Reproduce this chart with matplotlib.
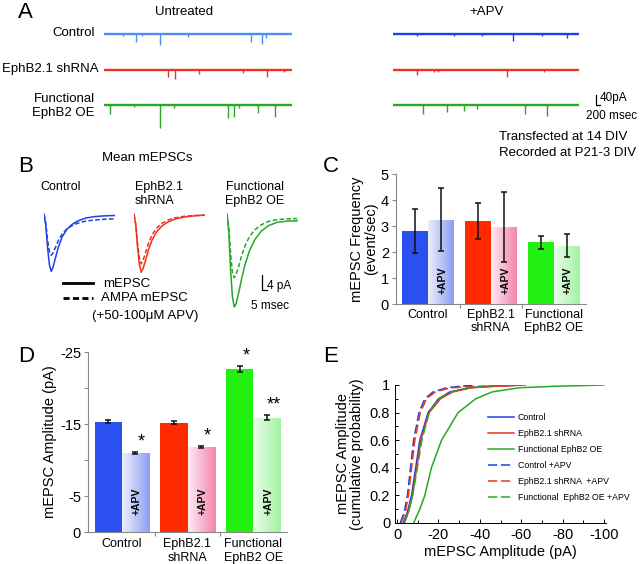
import numpy as np
import matplotlib
matplotlib.use("Agg")
import matplotlib.pyplot as plt
from matplotlib.colors import LinearSegmentedColormap

plt.rcParams['font.family'] = ['Liberation Sans', 'DejaVu Sans']
plt.rcParams['axes.unicode_minus'] = False

W, H = 640, 564

# ---------------- data ----------------
# panel A: spontaneous events (sweep fraction, amplitude in pA)
ctl_untr_t = [0.10, 0.17, 0.20, 0.30, 0.445, 0.78, 0.84, 0.86]
ctl_untr_a = [10, 40, 8, 55, 15, 40, 50, 20]
shr_untr_t = [0.34, 0.38, 0.505, 0.74, 0.865, 0.96]
shr_untr_a = [35, 45, 20, 15, 35, 10]
oe_untr_t = [0.03, 0.16, 0.30, 0.37, 0.66, 0.69, 0.72, 0.82, 0.91]
oe_untr_a = [45, 12, 115, 15, 65, 60, 15, 40, 60]
ctl_apv_t = [0.13, 0.33, 0.48, 0.645, 0.80, 0.935]
ctl_apv_a = [8, 10, 8, 35, 10, 20]
shr_apv_t = [0.13, 0.22, 0.24, 0.615, 0.81]
shr_apv_a = [25, 12, 12, 35, 10]
oe_apv_t = [0.16, 0.29, 0.38, 0.45, 0.71, 0.83]
oe_apv_a = [45, 35, 30, 20, 45, 55]

# panel B: mean mEPSC waveforms (ms, pA)
wave_t = [0, 2, 4, 6, 8, 10, 13, 16, 20, 25, 31, 38, 46, 56, 67, 78]
ctl_solid = [0, -3, -9, -13.5, -15.3, -14.2, -11.5, -8.8, -6.2, -4.2, -2.8, -1.8, -1.1, -0.7, -0.5, -0.4]
ctl_dash = [0, -2.5, -7, -10, -11.0, -10.4, -8.8, -7.0, -5.4, -4.1, -3.1, -2.4, -1.9, -1.6, -1.4, -1.3]
shr_solid = [0, -3, -9, -13.5, -15.5, -14.6, -12.2, -9.6, -7.0, -4.8, -3.2, -2.1, -1.3, -0.8, -0.5, -0.3]
shr_dash = [0, -2.7, -8, -11.8, -13.3, -12.4, -10.2, -7.9, -5.6, -3.8, -2.5, -1.6, -1.0, -0.6, -0.4, -0.3]
oe_solid = [0, -5, -15, -22, -24.8, -24.0, -21.0, -17.5, -13.5, -9.8, -6.8, -4.6, -3.1, -2.2, -1.9, -1.8]
oe_dash = [0, -3.5, -10.5, -15.5, -17.0, -16.2, -14.0, -11.3, -8.5, -6.0, -4.2, -2.9, -2.0, -1.5, -1.3, -1.2]

# panel C: frequency
groups = ['Control', 'EphB2.1\nshRNA', 'Functional\nEphB2 OE']
freq_untr = [2.8, 3.2, 2.37]
freq_untr_err = [0.85, 0.7, 0.26]
freq_apv = [3.25, 2.97, 2.25]
freq_apv_err = [1.2, 1.35, 0.45]

# panel D: amplitude (pA, sign flipped on axis)
amp_untr = [15.3, 15.2, 22.6]
amp_untr_err = [0.2, 0.2, 0.4]
amp_apv = [11.0, 11.8, 15.9]
amp_apv_err = [0.15, 0.15, 0.3]
amp_stars_untr = ['', '', '*']
amp_stars_apv = ['*', '*', '**']

# panel E: cumulative distributions (pA, probability)
cdf_ctl_x = [-3, -5, -7, -9, -11, -15, -20, -25.5, -35, -45, -60]
cdf_ctl_y = [0, 0.08, 0.2, 0.4, 0.6, 0.8, 0.9, 0.95, 0.98, 0.99, 1.0]
cdf_shr_x = [-3.5, -5.5, -7.5, -9.5, -11.5, -15.5, -21, -27, -36, -47, -62]
cdf_shr_y = [0, 0.08, 0.2, 0.4, 0.6, 0.8, 0.9, 0.95, 0.98, 0.99, 1.0]
cdf_oe_x = [-8, -11, -13.4, -16.6, -21.5, -29.5, -38, -46, -59, -75, -100]
cdf_oe_y = [0, 0.1, 0.2, 0.4, 0.6, 0.8, 0.9, 0.95, 0.98, 0.99, 1.0]
cdf_ctl_apv_x = [-1.5, -3.5, -5, -6.5, -8, -10.6, -13.4, -17.4, -24, -30, -37]
cdf_ctl_apv_y = [0, 0.08, 0.2, 0.4, 0.6, 0.8, 0.9, 0.95, 0.98, 0.99, 1.0]
cdf_shr_apv_x = [-2, -4, -5.5, -7, -8.6, -11.2, -14.2, -18.5, -26, -38, -60]
cdf_shr_apv_y = [0, 0.08, 0.2, 0.4, 0.6, 0.8, 0.9, 0.95, 0.98, 0.99, 1.0]
cdf_oe_apv_x = [-3.5, -5.5, -7.5, -9.8, -12, -15.5, -20, -26, -35, -42, -50]
cdf_oe_apv_y = [0, 0.08, 0.2, 0.4, 0.6, 0.8, 0.9, 0.95, 0.98, 0.99, 1.0]

# colours
blue_l, blue_d = '#4d8ef0', '#1f3fe8'
red = '#ee3322'
green = '#27a827'
bar_solid = ['#2b50f0', '#ff2a00', '#22f010']
bar_grad = [('#eceefc', '#8e9ff0'), ('#fdecf3', '#f384ae'), ('#ebfdeb', '#a2f3a2')]

fig = plt.figure(figsize=(W / 100, H / 100), dpi=100)


def px_axes(x0, y0, x1, y1):
    return fig.add_axes([x0 / W, 1 - y1 / H, (x1 - x0) / W, (y1 - y0) / H])


# overlay in pixel coordinates for labels
ov = px_axes(0, 0, W, H)
ov.set_xlim(0, W)
ov.set_ylim(H, 0)
ov.axis('off')

# ---------------- A ----------------
rows = [(ctl_untr_t, ctl_untr_a, ctl_apv_t, ctl_apv_a, blue_l, blue_d, 34),
        (shr_untr_t, shr_untr_a, shr_apv_t, shr_apv_a, red, red, 70),
        (oe_untr_t, oe_untr_a, oe_apv_t, oe_apv_a, green, green, 105)]
for tu, au, ta, aa, cu, ca, yb in rows:
    for (x0, x1), tt, aa_, c in [((104, 292), tu, au, cu), ((393, 579), ta, aa, ca)]:
        ax = px_axes(x0, yb - 4, x1, yb + 26)
        ax.set_xlim(0, 1)
        ax.set_ylim(-130, 20)
        ax.axis('off')
        ax.plot([0, 1], [0, 0], color=c, lw=1.7)
        ax.vlines(tt, 0, [-a for a in aa_], color=c, lw=1.0)

ov.text(18, 12, 'A', fontsize=16, va='center', ha='left')
ov.text(184, 12, 'Untreated', fontsize=9.5, ha='center', va='center')
ov.text(487, 12, '+APV', fontsize=9.5, ha='center', va='center')
ov.text(95, 33, 'Control', fontsize=9.5, ha='right', va='center')
ov.text(99, 69, 'EphB2.1 shRNA', fontsize=9.5, ha='right', va='center')
ov.text(95, 106, 'Functional\nEphB2 OE', fontsize=9.5, ha='right', va='center',
        multialignment='right', linespacing=1.25)
ov.plot([596, 596, 600], [95, 105, 105], color='k', lw=0.9)
ov.text(600, 98, '40pA', fontsize=8.5, ha='left', va='center')
ov.text(586, 116, '200 msec', fontsize=8.5, ha='left', va='center')
ov.text(499, 137, 'Transfected at 14 DIV', fontsize=9.5, ha='left', va='center')
ov.text(499, 153, 'Recorded at P21-3 DIV', fontsize=9.5, ha='left', va='center')

# ---------------- B ----------------
ov.text(18, 167, 'B', fontsize=16, va='center', ha='left')
ov.text(147, 158, 'Mean mEPSCs', fontsize=9.5, ha='center', va='center')
ov.text(61, 187, 'Control', fontsize=9, ha='center', va='center')
ov.text(135, 194, 'EphB2.1\nshRNA', fontsize=9, ha='left', va='center', linespacing=1.2)
ov.text(255, 194, 'Functional\nEphB2 OE', fontsize=9, ha='center', va='center', linespacing=1.2)
for x0, sol, das, c in [(44, ctl_solid, ctl_dash, blue_d), (134, shr_solid, shr_dash, red),
                        (227, oe_solid, oe_dash, green)]:
    ax = px_axes(x0, 210.25, x0 + 72, 315.25)
    ax.set_xlim(0, 80)
    ax.set_ylim(-27, 1)
    ax.axis('off')
    ax.plot(wave_t, sol, color=c, lw=1.1)
    ax.plot(wave_t, das, color=c, lw=1.1, ls=(0, (3, 1.5)))
ov.plot([262, 262, 266.5], [275, 290, 290], color='k', lw=0.9)
ov.text(267, 286, '4 pA', fontsize=8.5, ha='left', va='center')
ov.text(270, 306, '5 msec', fontsize=8.5, ha='center', va='center')
ov.plot([63, 93], [283, 283], color='k', lw=2)
ov.plot([63, 93], [298, 298], color='k', lw=2, ls=(0, (2.2, 1.2)))
ov.text(103, 284, 'mEPSC', fontsize=9.5, ha='left', va='center')
ov.text(101, 298, 'AMPA mEPSC', fontsize=9.5, ha='left', va='center')
ov.text(92, 316, '(+50-100\u03bcM APV)', fontsize=9.5, ha='left', va='center')


def grad_bars(ax, xs, heights, width, pairs):
    for x, h, (c0, c1) in zip(xs, heights, pairs):
        cmap = LinearSegmentedColormap.from_list('g', [c0, c1])
        b = ax.bar(x, h, width, color='none', edgecolor='none', zorder=2)[0]
        im = ax.imshow(np.linspace(0, 1, 64)[None, :], cmap=cmap, aspect='auto',
                       extent=(x - width / 2, x + width / 2, 0, h), zorder=2)
        im.set_clip_path(b)


def bar_panel(ax, untr, untr_err, apv, apv_err, top, ticks, ticklabels, ylabel, apv_y):
    pos = np.arange(len(groups))
    w = 0.41
    ax.bar(pos - w / 2, untr, w, color=bar_solid, zorder=2)
    grad_bars(ax, pos + w / 2, apv, w, bar_grad)
    ax.errorbar(pos - w / 2, untr, yerr=untr_err, fmt='none', ecolor='#111111',
                elinewidth=1.1, capsize=2.5, capthick=1.1, zorder=3)
    ax.errorbar(pos + w / 2, apv, yerr=apv_err, fmt='none', ecolor='#111111',
                elinewidth=1.1, capsize=2.5, capthick=1.1, zorder=3)
    for p in pos:
        ax.text(p + w / 2 + 0.02, apv_y, '+APV', rotation=90, fontsize=7.5,
                fontweight='bold', ha='center', va='center', zorder=4)
    ax.set_xlim(-0.51, 2.51)
    ax.set_ylim(0, top)
    ax.set_yticks(ticks)
    ax.set_yticklabels(ticklabels, fontsize=10.5)
    ax.set_xticks([0.5, 1.5])
    ax.set_xticklabels([])
    ax.tick_params(axis='y', length=3, color='#888888', pad=2)
    ax.tick_params(axis='x', length=3, color='#888888')
    for s in ['top', 'right']:
        ax.spines[s].set_visible(False)
    for s in ['left', 'bottom']:
        ax.spines[s].set_color('#888888')
    for p, g in zip(pos, groups):
        ax.text(p, -0.035 * top, g, fontsize=9, ha='center', va='top',
                transform=ax.transData, linespacing=1.15)
    ax.set_ylabel(ylabel, fontsize=10.5, labelpad=2)


# ---------------- C ----------------
ov.text(323, 167, 'C', fontsize=16, va='center', ha='left')
axc = px_axes(396, 174, 586, 304)
bar_panel(axc, freq_untr, freq_untr_err, freq_apv, freq_apv_err, 5, range(6),
          [str(i) for i in range(6)], 'mEPSC Frequency\n(event/sec)', 0.9)
axc.yaxis.label.set_linespacing(1.0)

# ---------------- D ----------------
ov.text(18, 357, 'D', fontsize=16, va='center', ha='left')
axd = px_axes(88, 352, 287, 532)
bar_panel(axd, amp_untr, amp_untr_err, amp_apv, amp_apv_err, 25, [0, 5, 10, 15, 20, 25],
          ['0', '-5', '', '-15', '', '-25'], 'mEPSC Amplitude (pA)', 4.2)
pos = np.arange(3)
for p, v, e, s in zip(pos, amp_untr, amp_untr_err, amp_stars_untr):
    if s:
        axd.text(p - 0.205 + 0.1, v + e + 0.3, s, fontsize=13, ha='center', va='bottom')
for p, v, e, s in zip(pos, amp_apv, amp_apv_err, amp_stars_apv):
    axd.text(p + 0.205 + 0.1, v + e + 0.2, s, fontsize=13, ha='center', va='bottom')

# ---------------- E ----------------
ov.text(323, 357, 'E', fontsize=16, va='center', ha='left')
axe = px_axes(395, 385, 606, 523)
curves = [(cdf_ctl_x, cdf_ctl_y, blue_d, '-', 'Control'),
          (cdf_shr_x, cdf_shr_y, red, '-', 'EphB2.1 shRNA'),
          (cdf_oe_x, cdf_oe_y, green, '-', 'Functional EphB2 OE'),
          (cdf_ctl_apv_x, cdf_ctl_apv_y, blue_d, (0, (6, 2.5)), 'Control +APV'),
          (cdf_shr_apv_x, cdf_shr_apv_y, red, (0, (6, 2.5)), 'EphB2.1 shRNA  +APV'),
          (cdf_oe_apv_x, cdf_oe_apv_y, green, (0, (6, 2.5)), 'Functional  EphB2 OE +APV')]
for xs, ys, c, ls, lab in curves:
    axe.plot(xs, ys, color=c, ls=ls, lw=1.1, label=lab)
axe.set_xlim(1, -101)
axe.set_ylim(0, 1)
axe.set_xticks([0, -20, -40, -60, -80, -100])
axe.set_xticks(np.arange(-100, 1, 10), minor=True)
axe.set_yticks([0, 0.2, 0.4, 0.6, 0.8, 1])
axe.set_yticklabels(['0', '0.2', '0.4', '0.6', '0.8', '1'])
axe.set_yticks(np.arange(0, 1.01, 0.1), minor=True)
axe.tick_params(which='both', direction='in', labelsize=10.5, length=3, width=0.7)
axe.tick_params(which='minor', length=2.5)
for s in ['top', 'right']:
    axe.spines[s].set_visible(False)
for s in ['left', 'bottom']:
    axe.spines[s].set_linewidth(0.7)
axe.set_xlabel('mEPSC Amplitude (pA)', fontsize=10.5, labelpad=2)
axe.set_ylabel('mEPSC Amplitude\n(cumulative probability)', fontsize=10.5, labelpad=4,
               linespacing=1.0)
axe.legend(loc='upper left', bbox_to_anchor=(0.42, 0.83), frameon=False, fontsize=6.3,
           handlelength=3.0, handletextpad=0.4, labelspacing=0.8, borderpad=0)

fig.savefig('out.png', dpi=100)
